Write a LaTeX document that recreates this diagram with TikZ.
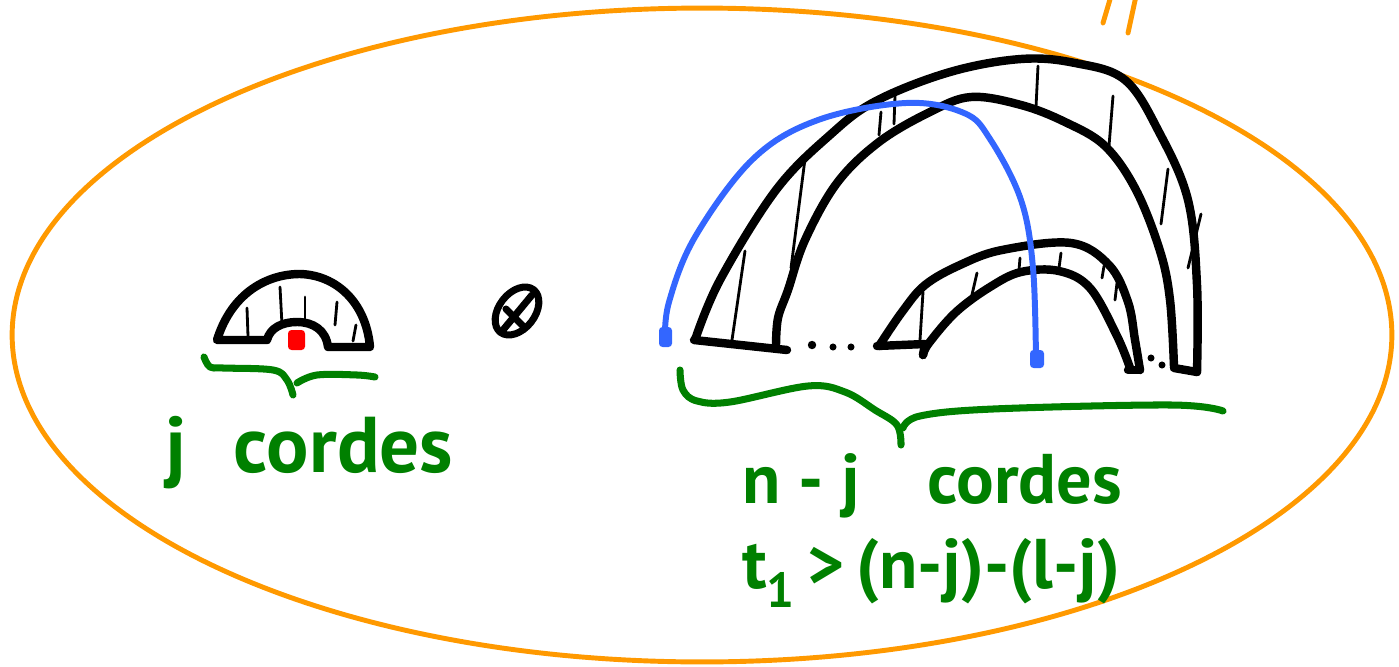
\documentclass[tikz,border=0pt]{standalone}
\usepackage{fontspec}
\setmainfont{PT Sans}
\definecolor{ora}{RGB}{255,153,0}
\definecolor{grn}{RGB}{0,128,0}
\definecolor{blu}{RGB}{51,102,255}
\tikzset{
  boundary/.style={draw=ora, line width=2.8pt},
  archline/.style={draw=black, line width=4.8pt},
  hatch/.style={draw=black, line width=1.6pt},
  chord/.style={draw=blu, line width=3.4pt},
  bracestroke/.style={draw=grn, line width=4pt},
  lbl/.style={text=grn, font=\bfseries\fontsize{40}{44}\selectfont, inner sep=0pt},
  biglbl/.style={text=grn, font=\bfseries\fontsize{45}{50}\selectfont, inner sep=0pt},
  dotmark/.style={fill=black},
}
\begin{document}
\begin{tikzpicture}[x=0.02cm, y=-0.02cm, line cap=round, line join=round]
\useasboundingbox (0,0) rectangle (1399,666);

% orange boundary
\draw[boundary] (702,335) ellipse [x radius=13.8cm, y radius=6.54cm];
\draw[boundary] (1103,23) -- (1111,-4);
\draw[boundary] (1128,33) -- (1136,-4);

% left small arch
\draw[archline] (217,340) .. controls (232,292) and (268,274) .. (300,274)
  .. controls (336,275) and (366,302) .. (370,347) -- (328,347)
  .. controls (326,330) and (313,322) .. (297,322)
  .. controls (282,322) and (270,328) .. (267,340) -- cycle;
\draw[hatch] (247,308) -- (248,336);
\draw[hatch] (280,287) -- (282,325);
\draw[hatch] (305,297) -- (305,320);
\draw[hatch] (337,302) -- (335,325);
\draw[hatch] (356,325) -- (353,341);
\fill[red, rounded corners=2pt] (288,330) rectangle (305,350);

% tensor symbol
\draw[line width=4pt] (517,311) ellipse [x radius=0.54cm, y radius=0.36cm, rotate=52];
\draw[line width=4pt] (503,330) -- (532,295);
\draw[line width=4pt] (506,309) -- (524,327);

% big band
\draw[archline] plot[smooth, tension=0.6] coordinates {(695,340) (720,280) (776,190) (830,135) (876,101) (950,72) (1021,59) (1075,63) (1125,80) (1159,132) (1188,200) (1197,285) (1197,372)};
\draw[archline] plot[smooth, tension=0.6] coordinates {(776,346) (778,318) (788,290) (805,240) (837,183) (879,142) (930,112) (971,97) (1021,105) (1065,122) (1105,146) (1136,190) (1160,251) (1170,300) (1174,367)};
\draw[archline] (694,340) -- (787,350);
\draw[archline] (1174,368) -- (1197,372);
\draw[hatch] (732,340) -- (745,251);
\draw[hatch] (791,268) -- (805,159);
\draw[hatch] (879,135) -- (881,112);
\draw[hatch] (894,124) -- (895,96);
\draw[hatch] (1036,107) -- (1038,66);
\draw[hatch] (1109,146) -- (1113,96);
\draw[hatch] (1161,224) -- (1168,169);
\draw[hatch] (1188,268) -- (1201,214);

% small arch inside
\draw[archline] plot[smooth, tension=0.6] coordinates {(879,346) (902,312) (925,285) (960,265) (1002,250) (1071,243) (1109,265) (1128,302) (1135,340) (1140,370)};
\draw[archline] plot[smooth, tension=0.6] coordinates {(923,355) (929,343) (956,312) (990,287) (1021,272) (1059,271) (1090,288) (1117,336) (1130,368)};
\draw[archline] (877,346) -- (925,344) -- (923,355);
\draw[archline] (1128,370) -- (1140,370);
\draw[hatch] (920,340) -- (923,292);
\draw[hatch] (971,299) -- (977,273);
\draw[hatch] (1019,270) -- (1020,258);
\draw[hatch] (1059,268) -- (1061,253);
\draw[hatch] (1102,278) -- (1104,266);
\draw[hatch] (1115,300) -- (1117,283);

% dots
\fill[dotmark] (812,345) circle [radius=2.4pt];
\fill[dotmark] (833,347) circle [radius=2pt];
\fill[dotmark] (851,347) circle [radius=2pt];
\fill[dotmark] (1151,358) circle [radius=2pt];
\fill[dotmark] (1162,365) circle [radius=2pt];

% blue chord
\draw[chord] plot[smooth, tension=0.6] coordinates {(665,340) (669,302) (695,237) (753,159) (818,120) (906,103) (964,113) (990,139) (1021,200) (1033,268) (1036,362)};
\fill[blu, rounded corners=2pt] (659,327) rectangle (672,347);
\fill[blu, rounded corners=2pt] (1030,350) rectangle (1044,368);

% braces
\draw[bracestroke] plot[smooth, tension=0.6] coordinates {(204,357) (210,367) (223,368) (273,370) (287,380) (293,395)};
\draw[bracestroke] plot[smooth, tension=0.6] coordinates {(297,383) (317,375) (357,375) (375,377)};
\draw[bracestroke] plot[smooth, tension=0.6] coordinates {(680,370) (683,390) (697,401) (730,402) (808,386) (845,392) (875,410) (897,425) (901,445)};
\draw[bracestroke] plot[smooth, tension=0.6] coordinates {(903,428) (920,416) (993,409) (1171,405) (1223,411)};

% labels
\node[biglbl, anchor=base west] (jc) at (165,472) {j\hspace{0.6em}cordes};
\node[lbl, anchor=base west] (njc) at (742,503) {n - j\hspace{0.95em}cordes};
\node[lbl, anchor=base west] (tcond) at (742,588) {t\textsubscript{1}\,>\,(n-j)-(l-j)};
\end{tikzpicture}
\end{document}
